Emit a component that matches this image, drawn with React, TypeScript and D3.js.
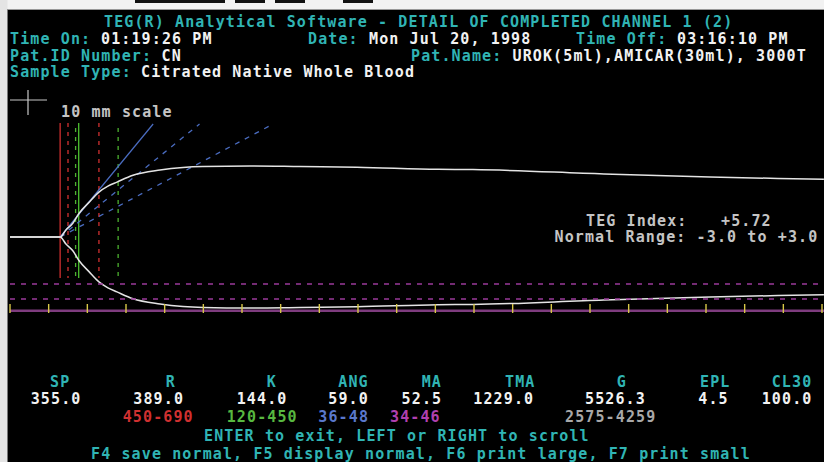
import * as d3 from 'd3';

// trace: time (s) vs amplitude (mm)
const TIME_SEC = [0, 389, 434, 489, 535, 613, 690, 760, 830, 954, 1164, 1342, 1497, 1862, 2250, 2692, 3320, 3592, 4608, 5431, 5958, 6315];
const AMP_MM = [0, 0, 5.2, 10.4, 17.4, 25.6, 33.2, 37.6, 40.6, 45.6, 49.5, 51.4, 52.1, 52.5, 52.1, 51.6, 50.1, 49.9, 46.6, 44.4, 43.3, 42.7];

const PARAM_LABELS = ['SP', 'R', 'K', 'ANG', 'MA', 'TMA', 'G', 'EPL', 'CL30'];
const PARAM_VALUES = ['355.0', '389.0', '144.0', '59.0', '52.5', '1229.0', '5526.3', '4.5', '100.0'];
const NORMAL_RANGES = ['', '450-690', '120-450', '36-48', '34-46', '', '2575-4259', '', ''];

const R_SEC = 389;
const K_SEC = 144;
const R_RANGE = [450, 690];
const K_RANGE = [120, 450];
const ANGLE = 59;
const ANGLE_RANGE = [36, 48];
const TICK_STEP_SEC = 300;
const TIME_MAX = 6300;

const W = 824;
const H = 462;
const FONT = '"DejaVu Sans Mono", monospace';
const CYAN = '#30b4b4';
const WHITE = '#f2f2f2';
const GRAY = '#c4c4c4';

const LABEL_X = [50, 165.7, 266.7, 338.3, 421.7, 505, 616.7, 700, 771.7];
const VALUE_X = [30.7, 133.3, 236.7, 328.3, 401.6, 473.3, 585, 698.3, 761.7];
const RANGE_X = [0, 122.7, 226.7, 318.3, 390, 0, 565, 0, 0];
const RANGE_COLORS = ['', '#d03030', '#58b840', '#5a78cc', '#b040b0', '', '#a8a8a8', '', ''];

function T({ x, y, c, s }: { x: number; y: number; c: string; s: string }) {
  return (
    <text x={x} y={y} fill={c} fontFamily={FONT} fontSize={15} fontWeight="bold" letterSpacing={1.12} style={{ whiteSpace: 'pre' }}>
      {s}
    </text>
  );
}

export default function App() {
  const x = d3.scaleLinear().domain([0, TIME_MAX]).range([10, 822]);
  const y = d3.scaleLinear().domain([-26.25, 26.25]).range([308, 166]);

  const pts = TIME_SEC.map((t, i) => ({ t, a: AMP_MM[i] }));
  const upper = d3.line<{ t: number; a: number }>().x((d) => x(d.t)).y((d) => y(d.a / 2)).curve(d3.curveMonotoneX);
  const lower = d3.line<{ t: number; a: number }>().x((d) => x(d.t)).y((d) => y(-d.a / 2)).curve(d3.curveMonotoneX);

  const ox = x(R_SEC);
  const oy = y(0);
  const topY = 124;
  const aspect = 0.73;
  const angleLine = (deg: number) => {
    const slope = Math.tan((deg * Math.PI) / 180) * aspect;
    return { x2: ox + (oy - topY) / slope, y2: topY };
  };

  const ticks = d3.range(0, TIME_MAX + 1, TICK_STEP_SEC);

  return (
    <div style={{ position: 'fixed', left: 0, top: 0 }}>
      <svg width={W} height={H} style={{ display: 'block' }}>
        <rect x={0} y={0} width={W} height={H} fill="#000" />
        {/* window chrome */}
        <rect x={0} y={0} width={W} height={9.5} fill="#f2f2f2" />
        <rect x={0} y={0} width={7.5} height={H} fill="#e4e4e4" />
        <line x1={7.5} x2={7.5} y1={9.5} y2={H} stroke="#777" strokeWidth={1} />
        <line x1={7.5} x2={W} y1={9.5} y2={9.5} stroke="#999" strokeWidth={1} />
        {[[135, 225], [235, 265], [275, 305], [343, 373]].map(([a, b], i) => (
          <rect key={i} x={a} y={0} width={b - a} height={3} fill="#111" />
        ))}

        {/* header */}
        <T x={104} y={26.7} c={CYAN} s="TEG(R) Analytical Software - DETAIL OF COMPLETED CHANNEL 1 (2)" />
        <T x={10} y={43.5} c={CYAN} s="Time On:" />
        <T x={101} y={43.5} c={WHITE} s="01:19:26 PM" />
        <T x={308} y={43.5} c={CYAN} s="Date:" />
        <T x={369} y={43.5} c={WHITE} s="Mon Jul 20, 1998" />
        <T x={576} y={43.5} c={CYAN} s="Time Off:" />
        <T x={677} y={43.5} c={WHITE} s="03:16:10 PM" />
        <T x={10} y={60.5} c={CYAN} s="Pat.ID Number:" />
        <T x={161.5} y={60.5} c={WHITE} s="CN" />
        <T x={411} y={60.5} c={CYAN} s="Pat.Name:" />
        <T x={512.5} y={60.5} c={WHITE} s="UROK(5ml),AMICAR(30ml), 3000T" />
        <T x={10} y={77.3} c={CYAN} s="Sample Type:" />
        <T x={141} y={77.3} c={WHITE} s="Citrated Native Whole Blood" />

        {/* scale cross */}
        <line x1={10} x2={47} y1={100} y2={100} stroke="#c8c8c8" strokeWidth={1.2} />
        <line x1={28} x2={28} y1={90} y2={115} stroke="#c8c8c8" strokeWidth={1.2} />
        <T x={61} y={116.7} c={GRAY} s="10 mm scale" />

        {/* R / K markers */}
        <line x1={x(R_SEC)} x2={x(R_SEC)} y1={123} y2={278} stroke="#d03030" strokeWidth={1.3} />
        {R_RANGE.map((r) => (
          <line key={r} x1={x(r)} x2={x(r)} y1={123} y2={278} stroke="#d03030" strokeWidth={1.3} strokeDasharray="4 5" />
        ))}
        <line x1={x(R_SEC + K_SEC)} x2={x(R_SEC + K_SEC)} y1={123} y2={278} stroke="#4cc030" strokeWidth={1.3} />
        {K_RANGE.map((k) => (
          <line key={k} x1={x(R_SEC + k)} x2={x(R_SEC + k)} y1={128} y2={278} stroke="#4cb030" strokeWidth={1.3} strokeDasharray="4 5" />
        ))}

        {/* angle lines */}
        <line x1={ox} y1={oy} {...angleLine(ANGLE)} stroke="#4a6cc0" strokeWidth={1.2} />
        {ANGLE_RANGE.map((a) => (
          <line key={a} x1={ox} y1={oy} {...angleLine(a)} stroke="#4a6cc0" strokeWidth={1.3} strokeDasharray="5 6" />
        ))}

        {/* trace */}
        <path d={upper(pts) || ''} fill="none" stroke="#e4e4e4" strokeWidth={1.5} />
        <path d={lower(pts) || ''} fill="none" stroke="#e4e4e4" strokeWidth={1.5} />

        {/* time axis */}
        <line x1={10} x2={W} y1={284} y2={284} stroke="#9a3a9a" strokeWidth={1.4} strokeDasharray="5 6" />
        <line x1={10} x2={W} y1={299} y2={299} stroke="#9a3a9a" strokeWidth={1.4} strokeDasharray="5 6" />
        <line x1={10} x2={W} y1={310.7} y2={310.7} stroke="#7e3c7e" strokeWidth={2.6} />
        {ticks.map((t) => (
          <line key={t} x1={x(t)} x2={x(t)} y1={304} y2={313} stroke="#d8c848" strokeWidth={1.4} />
        ))}

        {/* TEG index */}
        <T x={586} y={225.7} c={GRAY} s="TEG Index:" />
        <T x={721} y={225.7} c={GRAY} s="+5.72" />
        <T x={554.5} y={242.3} c={GRAY} s="Normal Range: -3.0 to +3.0" />

        {/* parameter table */}
        {PARAM_LABELS.map((l, i) => (
          <T key={l} x={LABEL_X[i]} y={386.7} c={CYAN} s={l} />
        ))}
        {PARAM_VALUES.map((v, i) => (
          <T key={i} x={VALUE_X[i]} y={404.3} c={WHITE} s={v} />
        ))}
        {NORMAL_RANGES.map((r, i) => (r ? <T key={i} x={RANGE_X[i]} y={422.3} c={RANGE_COLORS[i]} s={r} /> : null))}

        <T x={204} y={441} c={CYAN} s="ENTER to exit, LEFT or RIGHT to scroll" />
        <T x={91} y={459} c={CYAN} s="F4 save normal, F5 display normal, F6 print large, F7 print small" />
      </svg>
    </div>
  );
}
